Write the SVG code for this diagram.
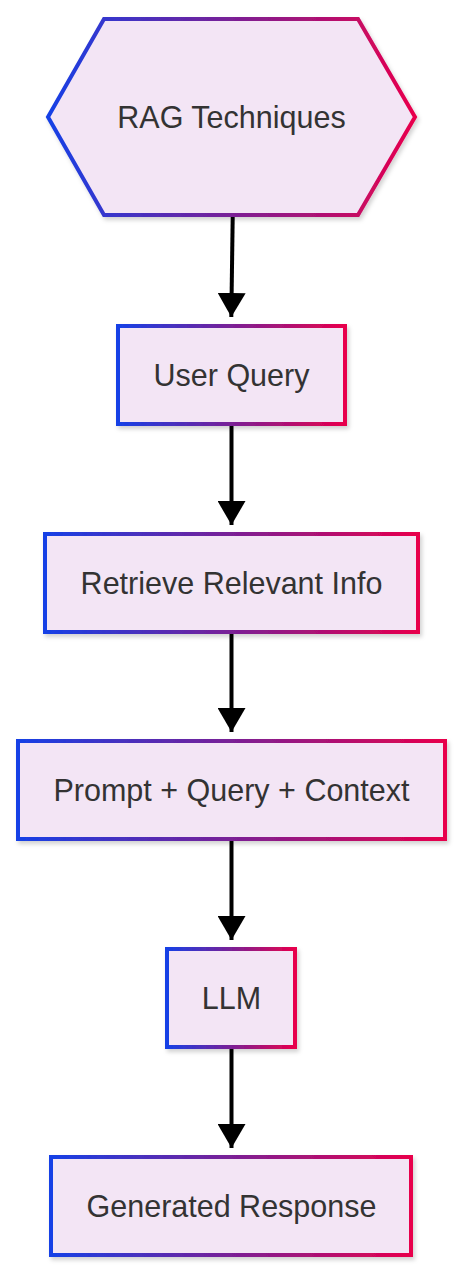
<svg xmlns="http://www.w3.org/2000/svg" width="465" height="1280" viewBox="0 0 465 1280">
<style>
.node{fill:#f3e5f5;stroke:url(#g);stroke-width:4;filter:url(#sh)}
.lbl{font-family:"Liberation Sans",Arial,sans-serif;font-size:30.5px;fill:#333;text-anchor:middle}
.edge{stroke:#000;stroke-width:4;fill:none;marker-end:url(#arr)}
</style>
<defs>
<linearGradient id="g" x1="0" y1="0" x2="1" y2="0">
<stop offset="0" stop-color="#1640e6"/>
<stop offset="0.5" stop-color="#7a2096"/>
<stop offset="1" stop-color="#e8004c"/>
</linearGradient>
<filter id="sh" x="-10%" y="-10%" width="120%" height="130%">
<feDropShadow dx="2" dy="3" stdDeviation="2" flood-color="#000" flood-opacity="0.18"/>
</filter>
<marker id="arr" markerUnits="userSpaceOnUse" markerWidth="28" markerHeight="28" refX="24" refY="14" orient="auto">
<path d="M0,0 L24,14 L0,28 Z" fill="#000"/>
</marker>
</defs>
<g id="connectors">
<path class="edge" d="M232.7,217 L231.3,317"/>
<path class="edge" d="M231.5,426 L231.5,525"/>
<path class="edge" d="M231.5,634 L231.5,732"/>
<path class="edge" d="M231.5,841 L231.5,940"/>
<path class="edge" d="M231.5,1049 L231.5,1148"/>
</g>
<g id="rag">
<polygon class="node" points="48,117 104,19 358,19 415,117 358,215 104,215"/>
<text class="lbl" x="231.5" y="127.5">RAG Techniques</text>
</g>
<g id="query">
<rect class="node" x="118" y="326" width="227" height="98"/>
<text class="lbl" x="231.5" y="385.5">User Query</text>
</g>
<g id="retrieve">
<rect class="node" x="45" y="534" width="373" height="98"/>
<text class="lbl" x="231.5" y="593.5">Retrieve Relevant Info</text>
</g>
<g id="prompt">
<rect class="node" x="18" y="741" width="427" height="98"/>
<text class="lbl" x="231.5" y="800.5">Prompt + Query + Context</text>
</g>
<g id="llm">
<rect class="node" x="167" y="949" width="128" height="98"/>
<text class="lbl" x="231.5" y="1008.5">LLM</text>
</g>
<g id="response">
<rect class="node" x="51" y="1157" width="360" height="98"/>
<text class="lbl" x="231.5" y="1216.5">Generated Response</text>
</g>
</svg>
